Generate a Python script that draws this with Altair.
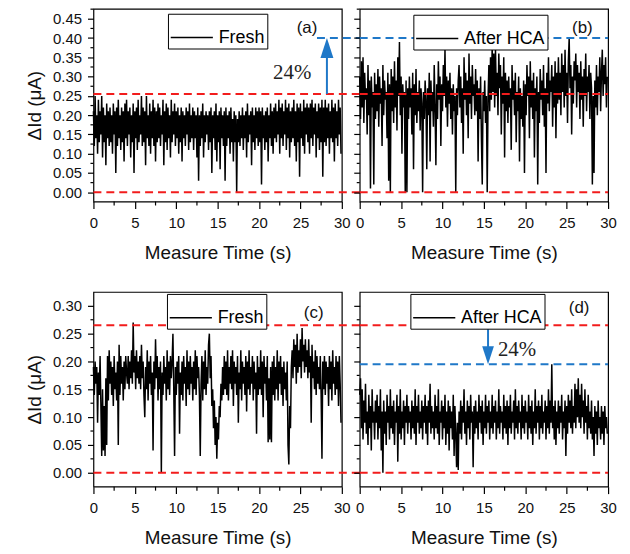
import altair as alt
import pandas as pd

# ---------------- data ----------------
time_s = [round(i * 0.1, 1) for i in range(300)]

fresh_a = [
    0.21,0.12,0.25,0.14,0.20,0.10,0.24,0.13,0.21,0.15,0.25,0.09,0.22,0.13,0.20,0.07,0.23,0.14,0.21,0.12,
    0.22,0.13,0.20,0.10,0.23,0.15,0.21,0.05,0.22,0.12,0.24,0.14,0.20,0.11,0.22,0.13,0.21,0.08,0.23,0.14,
    0.24,0.12,0.21,0.15,0.22,0.09,0.20,0.13,0.23,0.05,0.21,0.14,0.22,0.11,0.24,0.13,0.20,0.15,0.25,0.12,
    0.22,0.13,0.21,0.07,0.25,0.14,0.20,0.12,0.23,0.10,0.21,0.14,0.24,0.12,0.22,0.08,0.21,0.13,0.23,0.14,
    0.22,0.12,0.20,0.15,0.24,0.07,0.21,0.13,0.23,0.11,0.22,0.14,0.20,0.09,0.24,0.13,0.21,0.15,0.23,0.12,
    0.21,0.14,0.22,0.10,0.20,0.13,0.22,0.08,0.21,0.14,0.20,0.12,0.22,0.15,0.21,0.11,0.23,0.13,0.20,0.14,
    0.22,0.11,0.21,0.14,0.20,0.09,0.22,0.03,0.20,0.12,0.21,0.14,0.23,0.09,0.20,0.13,0.21,0.15,0.20,0.11,
    0.21,0.13,0.22,0.05,0.20,0.14,0.21,0.11,0.23,0.08,0.20,0.13,0.21,0.06,0.22,0.14,0.20,0.12,0.21,0.03,
    0.22,0.12,0.20,0.14,0.21,0.10,0.22,0.13,0.19,0.08,0.21,0.13,0.20,0.00,0.19,0.13,0.21,0.12,0.20,0.14,
    0.22,0.11,0.20,0.14,0.21,0.09,0.23,0.13,0.20,0.15,0.21,0.07,0.22,0.13,0.20,0.11,0.22,0.14,0.21,0.12,
    0.22,0.13,0.21,0.02,0.22,0.14,0.20,0.11,0.21,0.13,0.22,0.08,0.20,0.14,0.23,0.12,0.21,0.10,0.22,0.14,
    0.23,0.13,0.21,0.15,0.24,0.10,0.22,0.14,0.23,0.12,0.21,0.15,0.24,0.11,0.22,0.14,0.23,0.09,0.21,0.13,
    0.22,0.14,0.24,0.12,0.21,0.08,0.23,0.13,0.22,0.04,0.23,0.14,0.21,0.12,0.24,0.10,0.22,0.15,0.23,0.13,
    0.22,0.10,0.23,0.14,0.24,0.12,0.22,0.15,0.23,0.09,0.21,0.14,0.23,0.11,0.22,0.13,0.24,0.04,0.22,0.13,
    0.24,0.12,0.22,0.14,0.23,0.10,0.21,0.14,0.24,0.13,0.22,0.08,0.23,0.14,0.21,0.12,0.24,0.15,0.22,0.10,
]

hca_b = [
    0.30,0.19,0.34,0.22,0.35,0.18,0.31,0.24,0.27,0.15,0.33,0.20,0.29,0.01,0.30,0.22,0.26,0.02,0.31,0.19,
    0.28,0.21,0.32,0.17,0.30,0.23,0.27,0.12,0.33,0.20,0.29,0.24,0.26,0.14,0.31,0.03,0.28,0.00,0.32,0.21,
    0.30,0.18,0.34,0.22,0.29,0.16,0.35,0.25,0.39,0.20,0.30,0.10,0.28,0.22,0.26,0.00,0.29,0.00,0.27,0.19,
    0.30,0.22,0.27,0.15,0.31,0.06,0.28,0.20,0.32,0.18,0.26,0.21,0.29,0.16,0.27,0.23,0.00,0.26,0.19,0.29,
    0.24,0.06,0.27,0.20,0.31,0.08,0.29,0.21,0.26,0.17,0.33,0.22,0.07,0.28,0.19,0.34,0.24,0.30,0.12,0.28,
    0.21,0.33,0.25,0.37,0.22,0.30,0.17,0.29,0.23,0.31,0.19,0.27,0.15,0.28,0.21,0.25,0.00,0.27,0.20,0.29,
    0.33,0.22,0.30,0.18,0.27,0.10,0.35,0.24,0.31,0.20,0.29,0.14,0.36,0.23,0.30,0.19,0.33,0.25,0.28,0.20,
    0.32,0.21,0.29,0.08,0.27,0.19,0.30,0.14,0.02,0.26,0.21,0.29,0.18,0.25,0.00,0.24,0.33,0.21,0.35,0.24,
    0.38,0.26,0.36,0.22,0.37,0.25,0.31,0.20,0.36,0.27,0.33,0.15,0.30,0.23,0.35,0.09,0.31,0.21,0.29,0.18,
    0.30,0.22,0.27,0.11,0.33,0.24,0.29,0.20,0.31,0.13,0.26,0.21,0.30,0.08,0.27,0.19,0.25,0.17,0.29,0.05,
    0.28,0.20,0.33,0.25,0.30,0.14,0.34,0.22,0.29,0.19,0.31,0.09,0.27,0.21,0.30,0.02,0.26,0.18,0.32,0.24,
    0.29,0.20,0.33,0.17,0.27,0.05,0.31,0.23,0.35,0.21,0.29,0.26,0.33,0.17,0.30,0.22,0.34,0.14,0.31,0.23,
    0.35,0.24,0.31,0.20,0.36,0.26,0.33,0.22,0.37,0.25,0.31,0.18,0.34,0.40,0.27,0.33,0.15,0.30,0.23,0.34,
    0.29,0.36,0.22,0.33,0.26,0.31,0.19,0.34,0.24,0.30,0.17,0.32,0.25,0.36,0.21,0.30,0.26,0.33,0.19,0.31,
    0.27,0.02,0.25,0.05,0.29,0.22,0.33,0.20,0.30,0.26,0.35,0.21,0.31,0.37,0.25,0.33,0.28,0.35,0.22,0.30,
]

fresh_c = [
    0.19,0.14,0.20,0.16,0.19,0.09,0.18,0.14,0.21,0.12,0.03,0.15,0.04,0.12,0.03,0.17,0.05,0.21,0.13,0.22,
    0.16,0.20,0.14,0.19,0.12,0.21,0.15,0.18,0.13,0.20,0.05,0.23,0.14,0.21,0.16,0.19,0.13,0.20,0.15,0.21,
    0.18,0.16,0.21,0.15,0.20,0.17,0.22,0.16,0.27,0.18,0.21,0.15,0.22,0.17,0.20,0.16,0.21,0.15,0.23,0.17,
    0.20,0.14,0.10,0.19,0.15,0.22,0.13,0.20,0.16,0.21,0.14,0.18,0.04,0.20,0.15,0.24,0.17,0.21,0.13,0.19,
    0.15,0.20,0.00,0.18,0.14,0.21,0.16,0.19,0.13,0.22,0.15,0.20,0.14,0.21,0.17,0.20,0.25,0.15,0.03,0.19,
    0.14,0.20,0.16,0.21,0.07,0.18,0.14,0.20,0.13,0.21,0.16,0.19,0.12,0.22,0.15,0.20,0.14,0.21,0.16,0.19,
    0.13,0.20,0.15,0.22,0.14,0.21,0.17,0.19,0.14,0.03,0.16,0.21,0.13,0.20,0.15,0.22,0.14,0.19,0.16,0.23,
    0.25,0.17,0.21,0.12,0.15,0.08,0.13,0.05,0.10,0.025,0.09,0.06,0.12,0.10,0.16,0.13,0.19,0.14,0.21,0.15,
    0.20,0.14,0.22,0.13,0.19,0.16,0.21,0.15,0.22,0.12,0.20,0.16,0.19,0.14,0.21,0.09,0.18,0.15,0.22,0.13,
    0.20,0.16,0.19,0.14,0.21,0.11,0.20,0.15,0.22,0.14,0.19,0.16,0.21,0.13,0.20,0.15,0.18,0.07,0.21,0.14,
    0.19,0.15,0.22,0.14,0.20,0.10,0.21,0.16,0.19,0.13,0.21,0.055,0.17,0.06,0.19,0.055,0.20,0.14,0.21,0.13,
    0.19,0.15,0.22,0.13,0.20,0.16,0.21,0.14,0.19,0.12,0.20,0.15,0.18,0.13,0.20,0.05,0.015,0.12,0.08,0.19,
    0.22,0.17,0.24,0.19,0.23,0.16,0.25,0.18,0.22,0.19,0.24,0.17,0.26,0.20,0.23,0.18,0.24,0.19,0.22,0.17,
    0.24,0.18,0.21,0.09,0.23,0.17,0.20,0.15,0.22,0.14,0.21,0.16,0.19,0.15,0.21,0.14,0.025,0.20,0.15,0.21,
    0.14,0.20,0.16,0.19,0.12,0.21,0.15,0.20,0.13,0.22,0.16,0.19,0.14,0.21,0.15,0.20,0.12,0.21,0.16,0.09,
]

hca_d = [
    0.14,0.17,0.08,0.15,0.06,0.13,0.09,0.16,0.07,0.11,0.05,0.14,0.08,0.12,0.04,0.15,0.09,0.11,0.06,0.13,
    0.09,0.14,0.06,0.12,0.08,0.15,0.04,0.11,0.00,0.13,0.07,0.11,0.05,0.14,0.09,0.12,0.06,0.15,0.08,0.12,
    0.07,0.13,0.05,0.11,0.09,0.14,0.02,0.12,0.07,0.15,0.06,0.11,0.08,0.13,0.05,0.12,0.09,0.14,0.07,0.12,
    0.09,0.11,0.06,0.13,0.08,0.12,0.07,0.15,0.05,0.12,0.09,0.14,0.07,0.11,0.08,0.13,0.06,0.12,0.09,0.14,
    0.07,0.12,0.05,0.13,0.09,0.16,0.07,0.12,0.08,0.11,0.06,0.14,0.08,0.12,0.07,0.15,0.05,0.11,0.09,0.13,
    0.06,0.12,0.08,0.14,0.05,0.11,0.07,0.13,0.04,0.12,0.08,0.11,0.06,0.14,0.03,0.12,0.07,0.01,0.09,0.005,
    0.11,0.07,0.13,0.06,0.12,0.09,0.15,0.07,0.11,0.05,0.13,0.08,0.12,0.06,0.14,0.09,0.11,0.01,0.12,0.07,
    0.13,0.08,0.11,0.06,0.14,0.09,0.12,0.07,0.13,0.05,0.11,0.08,0.14,0.07,0.12,0.09,0.13,0.06,0.11,0.08,
    0.14,0.07,0.12,0.09,0.13,0.06,0.11,0.08,0.15,0.07,0.12,0.09,0.11,0.06,0.14,0.08,0.12,0.07,0.13,0.05,
    0.12,0.08,0.14,0.07,0.11,0.09,0.13,0.06,0.15,0.08,0.12,0.07,0.13,0.09,0.11,0.06,0.14,0.08,0.12,0.07,
    0.13,0.09,0.11,0.06,0.14,0.08,0.12,0.07,0.13,0.05,0.11,0.08,0.15,0.07,0.12,0.09,0.13,0.06,0.12,0.08,
    0.14,0.07,0.11,0.09,0.13,0.06,0.12,0.08,0.15,0.07,0.13,0.09,0.195,0.08,0.12,0.06,0.13,0.05,0.11,0.08,
    0.13,0.07,0.12,0.09,0.14,0.06,0.11,0.08,0.13,0.03,0.12,0.07,0.14,0.09,0.13,0.08,0.15,0.07,0.12,0.09,
    0.16,0.08,0.15,0.10,0.17,0.09,0.14,0.08,0.16,0.10,0.13,0.07,0.15,0.09,0.12,0.06,0.14,0.08,0.11,0.07,
    0.13,0.06,0.10,0.03,0.12,0.07,0.11,0.05,0.13,0.08,0.10,0.06,0.12,0.07,0.11,0.05,0.12,0.08,0.10,0.07,
]

series_names = ["Fresh", "After HCA", "Fresh", "After HCA"]
panel_letters = ["(a)", "(b)", "(c)", "(d)"]
x_major = [0, 5, 10, 15, 20, 25, 30]
x_minor = [2.5, 7.5, 12.5, 17.5, 22.5, 27.5]
y_major_top = [round(i * 0.05, 2) for i in range(10)]
y_minor_top = [round(0.025 + i * 0.05, 3) for i in range(10)]
y_major_bottom = [round(i * 0.05, 2) for i in range(7)]
y_minor_bottom = [round(0.025 + i * 0.05, 3) for i in range(6)]
red_top = [0.255, 0.0]
red_bottom = [0.265, 0.0]
blue_b = 0.40
blue_d = 0.195
pct_label = "24%"

RED = "#f21c1c"
BLUE = "#1f78c8"
FONT = "Liberation Sans"


def panel(values, name, letter, letter_pos, domain, ymajor, yminor, ylab, reds, red_x2,
          blue=None, blue_x=(0, 30), arrow=None, pct_pos=None, leg=(75, 5), height=194):
    df = pd.DataFrame({"t": time_s, "v": values, "s": [name] * len(values)})
    xs = alt.Scale(domain=[0, 30], nice=False, zero=False)
    ys = alt.Scale(domain=domain, nice=False, zero=False)
    xaxis = alt.Axis(values=x_major, format="d", tickSize=7, tickCount=7,
                     title="Measure Time (s)", labelFlush=False, labelOverlap=False)
    yaxis = alt.Axis(values=ymajor, format=".2f", tickSize=6, tickCount=len(ymajor),
                     labels=ylab, title="\u0394Id (\u03bcA)" if ylab else "",
                     labelOverlap=False, labelFlush=False)
    X = lambda f: alt.X(f, scale=xs, axis=xaxis)
    Y = lambda f: alt.Y(f, scale=ys, axis=yaxis)
    line = alt.Chart(df).mark_line(strokeWidth=1.5).encode(
        x=X("t:Q"),
        y=Y("v:Q"),
        color=alt.Color("s:N", scale=alt.Scale(range=["black"]),
                        legend=alt.Legend(orient="none", legendX=leg[0], legendY=leg[1], title=None,
                                          fillColor="white", strokeColor="black", padding=2,
                                          symbolType="stroke", symbolSize=1800, symbolStrokeWidth=1.5,
                                          symbolStrokeColor="black", labelFontSize=18, labelFont=FONT,
                                          labelColor="black", labelOffset=5, labelLimit=300)),
    )
    layers = []
    # minor ticks (outside, shorter than the major ones)
    ymdf = pd.DataFrame({"y": yminor})
    layers.append(alt.Chart(ymdf).mark_rule(color="black", strokeWidth=1.2, clip=False).encode(
        y=Y("y:Q"), x=alt.value(0), x2=alt.value(-3)))
    xmdf = pd.DataFrame({"x": x_minor})
    layers.append(alt.Chart(xmdf).mark_rule(color="black", strokeWidth=1.2, clip=False).encode(
        x=X("x:Q"), y=alt.value(height), y2=alt.value(height + 4)))
    rdf = pd.DataFrame({"y": reds, "x": [0] * len(reds), "x2": [red_x2] * len(reds)})
    layers.append(alt.Chart(rdf).mark_rule(color=RED, strokeWidth=2, strokeDash=[8, 5], clip=False).encode(
        y=Y("y:Q"), x=X("x:Q"), x2="x2:Q"))
    if blue is not None:
        bdf = pd.DataFrame({"y": [blue], "x": [blue_x[0]], "x2": [blue_x[1]]})
        layers.append(alt.Chart(bdf).mark_rule(color=BLUE, strokeWidth=2, strokeDash=[8, 5], clip=False).encode(
            y=Y("y:Q"), x=X("x:Q"), x2="x2:Q"))
    if arrow is not None:
        t, y0, y1, tip, up = arrow
        adf = pd.DataFrame({"t": [t], "y0": [y0], "y1": [y1], "tip": [tip]})
        layers.append(alt.Chart(adf).mark_rule(color=BLUE, strokeWidth=2).encode(
            x=X("t:Q"), y=Y("y0:Q"), y2="y1:Q"))
        shape = "M0,-1L0.65,1L-0.65,1Z" if up else "M0,1L0.65,-1L-0.65,-1Z"
        layers.append(alt.Chart(adf).mark_point(shape=shape, filled=True, size=400 if up else 330,
                                                color=BLUE, opacity=1, strokeWidth=0,
                                                yOffset=10 if up else -9).encode(x=X("t:Q"), y=Y("tip:Q")))
    if pct_pos is not None:
        pdf = pd.DataFrame({"t": [pct_pos[0]], "y": [pct_pos[1]], "txt": [pct_label]})
        layers.append(alt.Chart(pdf).mark_text(font="Liberation Serif", fontSize=21, color="#222").encode(
            x=X("t:Q"), y=Y("y:Q"), text="txt:N"))
    ldf = pd.DataFrame({"t": [letter_pos[0]], "y": [letter_pos[1]], "txt": [letter]})
    layers.append(alt.Chart(ldf).mark_text(font=FONT, fontSize=17, color="#111").encode(
        x=X("t:Q"), y=Y("y:Q"), text="txt:N"))
    return alt.layer(line, *layers).properties(width=250, height=height)


pa = panel(fresh_a, series_names[0], panel_letters[0], (25.8, 0.425), [-0.024, 0.476],
           y_major_top, y_minor_top, True, red_top, 32.2, blue=blue_b, blue_x=(27.0, 32.2),
           arrow=(28.2, 0.255, 0.37, blue_b, True), pct_pos=(24.0, 0.31), leg=(75, 5), height=194)
pb = panel(hca_b, series_names[1], panel_letters[1], (26.9, 0.425), [-0.024, 0.476],
           y_major_top, y_minor_top, False, red_top, 30, blue=blue_b, blue_x=(0, 30), leg=(54, 6), height=194)
pc = panel(fresh_c, series_names[2], panel_letters[2], (26.6, 0.287), [-0.025, 0.325],
           y_major_bottom, y_minor_bottom, True, red_bottom, 32.2, leg=(74, 2), height=196)
pd_ = panel(hca_d, series_names[3], panel_letters[3], (26.5, 0.296), [-0.025, 0.325],
            y_major_bottom, y_minor_bottom, False, red_bottom, 30, blue=blue_d, blue_x=(0, 30),
            arrow=(15.5, 0.26, 0.22, blue_d, False), pct_pos=(19.0, 0.22), leg=(51, 2), height=196)

chart = alt.concat(pa, pb, pc, pd_, columns=2, spacing={"row": 91, "column": 18}, bounds="flush").resolve_scale(
    x="independent", y="independent", color="independent").resolve_legend(color="independent").properties(
    padding={"left": 17, "top": -2, "right": 5, "bottom": 5}, background="white"
).configure_view(stroke="black", strokeWidth=1.2).configure_axis(
    domain=False, tickColor="black", tickWidth=1.2, labelFont=FONT, labelFontSize=15, labelColor="#111",
    labelPadding=6, titleFont=FONT, titleFontSize=19, titleFontWeight="normal", titleColor="#111",
    grid=False, labelOverlap=False
).configure_axisX(titlePadding=13, labelPadding=7).configure_axisY(titlePadding=8)

chart.save("out.html", embed_options={"renderer": "svg", "actions": False})
